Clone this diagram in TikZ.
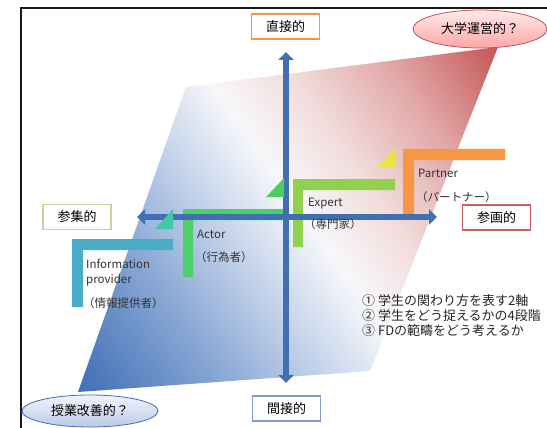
\documentclass[tikz,border=0pt]{standalone}
\usepackage{fontspec}
\setmainfont{Noto Sans CJK JP}
\usetikzlibrary{arrows.meta,shapes.geometric}
\definecolor{axisblue}{RGB}{64,112,178}
\definecolor{infoc}{RGB}{75,172,198}
\definecolor{actorc}{RGB}{78,208,104}
\definecolor{expertc}{RGB}{146,208,80}
\definecolor{partnerc}{RGB}{247,150,70}
\definecolor{tria}{RGB}{64,201,160}
\definecolor{trib}{RGB}{76,206,92}
\definecolor{tric}{RGB}{232,230,70}
\definecolor{blueend}{RGB}{62,108,178}
\definecolor{pbl}{RGB}{70,116,184}
\definecolor{pbltwo}{RGB}{135,166,212}
\definecolor{pblthree}{RGB}{200,214,236}
\definecolor{pwh}{RGB}{247,247,250}
\definecolor{prdthree}{RGB}{242,220,220}
\definecolor{prdtwo}{RGB}{226,168,168}
\definecolor{prd}{RGB}{196,84,84}
\definecolor{boxorange}{RGB}{247,150,70}
\definecolor{boxgreen}{RGB}{196,214,155}
\definecolor{boxred}{RGB}{200,95,105}
\definecolor{boxblue}{RGB}{125,155,205}
\pgfdeclareverticalshading{planeshade}{100bp}{color(0bp)=(pbl); color(17bp)=(pbl);
  color(31bp)=(pbltwo); color(43bp)=(pblthree); color(52bp)=(pwh);
  color(61bp)=(prdthree); color(72bp)=(prdtwo); color(85bp)=(prd); color(100bp)=(prd)}
\tikzset{
  axisarrow/.style={line width=6.5pt, color=axisblue,
    {Triangle[width=15pt,length=8pt]}-{Triangle[width=15pt,length=8pt]}},
  labelbox/.style={draw, line width=1.6pt, fill=white, minimum width=68pt,
    minimum height=25pt, inner sep=0pt, font=\fontsize{13}{15}\selectfont},
  steptext/.style={anchor=west, inner sep=0pt, font=\fontsize{11.5}{13}\selectfont, text=black!80},
  listtext/.style={anchor=west, inner sep=0pt, font=\fontsize{13}{15}\selectfont, text=black!85},
  oval/.style={ellipse, inner sep=0pt, font=\fontsize{13}{15}\selectfont, line width=0.8pt}
}
\begin{document}
\begin{tikzpicture}[x=1pt,y=-1pt]
\useasboundingbox (0,0) rectangle (547,428);
\fill[white] (0,0) rectangle (547,428);
% frame
\draw[line width=2pt, black!90] (21,428) -- (21,8) -- (547,8);
% gradient plane
\shade[shading=planeshade, shading angle=-55]
  (186,87) -- (498,47) -- (370,371) -- (78,392) -- cycle;
% steps
\fill[infoc] (72,239) -- (173,239) -- (173,250) -- (83,250) -- (83,307) -- (72,307) -- cycle;
\fill[actorc] (183,209) -- (284,209) -- (284,220) -- (193,220) -- (193,277) -- (183,277) -- cycle;
\fill[expertc] (293,179) -- (395,179) -- (395,190) -- (303,190) -- (303,247) -- (293,247) -- cycle;
\fill[partnerc] (403,149) -- (505,149) -- (505,160) -- (414,160) -- (414,217) -- (403,217) -- cycle;
% axes
\coordinate (vtop) at (286,52);
\coordinate (vbot) at (286,383);
\coordinate (hleft) at (137,217);
\coordinate (hright) at (437,217);
\draw[axisarrow] (hleft) -- (hright);
\draw[axisarrow] (vbot) -- (vtop);
% triangles
\fill[tria] (155,229) -- (173,229) -- (173,209) -- cycle;
\fill[trib] (266,197) -- (284,197) -- (284,178) -- cycle;
\fill[tric] (377,168) -- (395,168) -- (395,148) -- cycle;
% step labels
\node[steptext] (ip1) at (86,264) {Information};
\node[steptext] (ip2) at (86,280) {provider};
\node[steptext] (ip3) at (83,303) {（情報提供者）};
\node[steptext] (ac1) at (197,234) {Actor};
\node[steptext] (ac2) at (195,257) {（行為者）};
\node[steptext] (ex1) at (308,204) {Expert};
\node[steptext] (ex2) at (304,224) {（専門家）};
\node[steptext] (pa1) at (418,173) {Partner};
\node[steptext] (pa2) at (416,197) {（パートナー）};
% axis labels
\node[labelbox, draw=boxorange] (direct) at (285.5,26.5) {直接的};
\node[labelbox, draw=boxgreen] (sanshu) at (77,217) {参集的};
\node[labelbox, draw=boxred] (sankaku) at (496.5,217.5) {参画的};
\node[labelbox, draw=boxblue] (indirect) at (286.5,408.5) {間接的};
% ovals
\node[oval, draw=boxred!90!black, top color=red!8, bottom color=red!35!white,
  minimum width=134pt, minimum height=38pt] (univ) at (480,29) {大学運営的？};
\node[oval, draw=axisblue, top color=blue!5!white, bottom color=blueend!35!white,
  minimum width=136pt, minimum height=32pt] (class) at (90,411) {授業改善的？};
% list
\node[listtext] (l1) at (362,301) {① 学生の関わり方を表す2軸};
\node[listtext] (l2) at (362,316) {② 学生をどう捉えるかの4段階};
\node[listtext] (l3) at (362,331) {③ FDの範疇をどう考えるか};
\end{tikzpicture}
\end{document}
